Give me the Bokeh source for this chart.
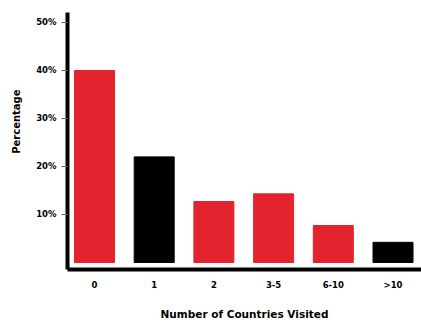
from bokeh.plotting import figure
from bokeh.models import Range1d, FixedTicker, PrintfTickFormatter, ColumnDataSource, Title
from bokeh.embed import file_html
from bokeh.resources import INLINE

# Share of respondents by number of countries visited
categories = ["0", "1", "2", "3-5", "6-10", ">10"]
percentages = [40.0, 22.0, 12.7, 14.3, 7.7, 4.2]
bar_colors = ["#e3232d", "#000000", "#e3232d", "#e3232d", "#e3232d", "#000000"]
y_ticks = [10, 20, 30, 40, 50]

positions = list(range(len(categories)))
source = ColumnDataSource(dict(x=positions, top=percentages, color=bar_colors))

FONT = "DejaVu Sans"

p = figure(
    width=421, height=322,
    x_range=Range1d(-0.452, 5.477),
    y_range=Range1d(-1.46, 52.08),
    output_backend="svg", toolbar_location=None,
    min_border_left=67, min_border_right=0,
    min_border_top=12, min_border_bottom=53,
)
p.outline_line_color = None
p.xgrid.visible = False
p.ygrid.visible = False
p.background_fill_color = "white"
p.border_fill_color = "white"

p.vbar(x="x", top="top", bottom=0, width=0.67, color="color", source=source)

# y axis
ya = p.yaxis[0]
ya.ticker = FixedTicker(ticks=y_ticks)
ya.formatter = PrintfTickFormatter(format="%d%%")
ya.axis_line_width = 4
ya.axis_line_color = "black"
ya.major_tick_out = 6
ya.major_tick_in = 0
ya.major_tick_line_color = "#666666"
ya.minor_tick_line_color = None
ya.major_label_standoff = 5
ya.major_label_text_font = FONT
ya.major_label_text_font_style = "bold"
ya.major_label_text_font_size = "8.5px"
ya.major_label_text_color = "black"

# vertical title for the y axis, near the left edge, a little above mid-height
p.add_layout(Title(
    text="Percentage", align="right", offset=77, standoff=20,
    vertical_align="top",
    text_font=FONT, text_font_style="bold", text_font_size="10px",
    text_color="black",
), "left")

# x axis
xa = p.xaxis[0]
xa.ticker = FixedTicker(ticks=positions)
xa.major_label_overrides = {i: c for i, c in zip(positions, categories)}
xa.axis_line_width = 4
xa.axis_line_color = "black"
xa.major_tick_out = 0
xa.major_tick_in = 0
xa.minor_tick_line_color = None
xa.major_label_standoff = 10
xa.major_label_text_font = FONT
xa.major_label_text_font_style = "bold"
xa.major_label_text_font_size = "8.5px"
xa.major_label_text_color = "black"
xa.axis_label = "Number of Countries Visited"
xa.axis_label_text_font = FONT
xa.axis_label_text_font_style = "bold"
xa.axis_label_text_font_size = "10.5px"
xa.axis_label_text_color = "black"
xa.axis_label_standoff = 15

open("out.html", "w").write(file_html(p, INLINE))
